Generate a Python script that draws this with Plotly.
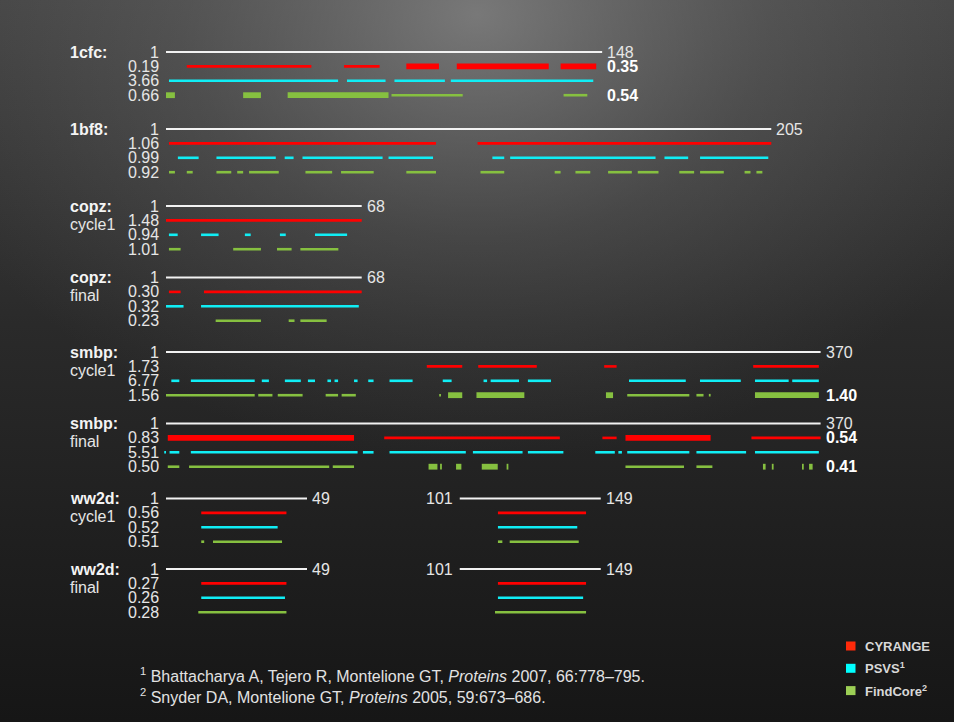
import base64
import plotly.graph_objects as go

# ---------------------------------------------------------------- data
BLOCK_NAMES = ["1cfc:", "1bf8:", "copz:", "copz:", "smbp:", "smbp:", "ww2d:", "ww2d:"]
BLOCK_STAGES = ["", "", "cycle1", "final", "cycle1", "final", "cycle1", "final"]
CHAIN_SEGMENTS = [[(1, 148)], [(1, 205)], [(1, 68)], [(1, 68)],
                  [(1, 370)], [(1, 370)], [(1, 49), (101, 149)], [(1, 49), (101, 149)]]

CYRANGE_RMSD = ["0.19", "1.06", "1.48", "0.30", "1.73", "0.83", "0.56", "0.27"]
PSVS_RMSD = ["3.66", "0.99", "0.94", "0.32", "6.77", "5.51", "0.52", "0.26"]
FINDCORE_RMSD = ["0.66", "0.92", "1.01", "0.23", "1.56", "0.50", "0.51", "0.28"]
CYRANGE_CORE_RMSD = ["0.35", "", "", "", "", "0.54", "", ""]
FINDCORE_CORE_RMSD = ["0.54", "", "", "", "1.40", "0.41", "", ""]

# residue ranges per block
CYRANGE_RANGES = [
    [(8, 50), (61, 73)],
    [(2, 92), (106, 205)],
    [(1, 68)],
    [(2, 6), (14, 68)],
    [(148, 168), (177, 210), (248, 255), (332, 369)],
    [(124, 223), (247, 255), (331, 370)],
    [(13, 42), (114, 144)],
    [(13, 42), (114, 144)],
]
CYRANGE_CORE = [
    [(82, 93), (99, 130), (134, 146)],
    [], [], [], [],
    [(2, 107), (260, 308)],
    [], [],
]
PSVS_RANGES = [
    [(2, 59), (62, 75), (78, 95), (97, 145)],
    [(5, 12), (18, 38), (41, 44), (47, 74), (76, 91), (111, 115), (117, 166),
     (169, 177), (181, 204)],
    [(2, 5), (13, 19), (28, 30), (40, 42), (52, 63)],
    [(1, 7), (13, 67)],
    [(4, 8.5), (15, 51), (55, 59), (68, 77), (81, 85), (92, 94), (96, 98), (107, 109),
     (115, 118), (127, 140), (157, 162), (180, 182), (184, 200), (205, 218),
     (262, 294), (302, 325), (333, 352), (354, 369)],
    [(0, 1), (3, 8.5), (15, 109), (112, 118), (127, 170), (174, 202), (205, 225),
     (243, 254), (256, 258), (261, 296), (300, 328), (333, 369)],
    [(13, 39), (114, 141)],
    [(13, 41.5), (114, 143)],
]
FINDCORE_RANGES = [
    [(77, 101), (135, 143)],
    [(2, 4), (8, 10), (18, 23), (25, 27), (29, 39), (48, 57), (60, 71), (82, 92),
     (107, 115), (132, 134), (139, 144), (150, 158), (160, 167), (174, 179),
     (181, 189), (196, 198), (200, 202)],
    [(2, 6), (24, 33.5), (39, 44), (47, 60)],
    [(18, 33.5), (43, 45), (47, 56)],
    [(1, 51), (53, 61), (64, 78), (91, 98), (100, 108), (155, 156), (261, 296),
     (300, 304), (307, 308)],
    [(2, 8.5), (14, 93), (95, 107), (260, 293), (300, 309)],
    [(13, 14), (17, 40.5), (114, 115.5), (118, 141.5)],
    [(12, 42), (113, 144)],
]
FINDCORE_CORE = [
    [(1, 4), (27, 33), (42, 76)],
    [], [], [],
    [(160, 168), (176, 203), (249, 253), (333, 369)],
    [(149, 154), (155.5, 156.5), (164.5, 167.5), (179, 188), (193, 194),
     (337.5, 339), (342.5, 343.5), (359.5, 360.5), (363.5, 365.5)],
    [], [],
]

LEGEND_NAMES = ["CYRANGE", "PSVS<sup>1</sup>", "FindCore<sup>2</sup>"]
FOOTNOTES = [
    "<sup>1</sup> Bhattacharya A, Tejero R, Montelione GT, <i>Proteins</i> 2007, 66:778–795.",
    "<sup>2</sup> Snyder DA, Montelione GT, <i>Proteins</i> 2005, 59:673–686.",
]

# ---------------------------------------------------------------- layout constants
FIG_W, FIG_H = 954, 722
ORIGIN_PX = 166
PX_PER_RES = [2.967, 2.967, 2.921, 2.921, 1.774, 1.774, 2.9375, 2.9375]
BLOCK_Y = [52, 129, 206, 277.5, 352, 423.5, 498.5, 569]
ROW_STEP = 14.4
FONT = "Liberation Sans, Arial, Helvetica, sans-serif"
FS = 16
C_CHAIN = "#f2f2f2"
C_RED = "#ff0000"
C_CYAN = "#10eef5"
C_GREEN = "#86c040"
LEG_COLORS = ["#ff2a0a", "#00ffff", "#9ccf55"]
THIN, THICK = 2.6, 5.8

fig = go.Figure()


def xa(i):
    return "x" if i == 0 else f"x{i + 1}"


def add_ranges(i, row, ranges, color, width):
    if not ranges:
        return
    xs, ys = [], []
    y = BLOCK_Y[i] + row * ROW_STEP
    for a, b in ranges:
        xs += [a, b, None]
        ys += [y, y, None]
    fig.add_trace(go.Scatter(x=xs, y=ys, mode="lines",
                             line=dict(color=color, width=width),
                             xaxis=xa(i), yaxis="y", showlegend=False,
                             hoverinfo="skip"))


annotations = []


def label(i, x, y, text, anchor, shift, size=FS, color="#e6e6e6", bold=False):
    annotations.append(dict(
        x=x, y=y, xref=xa(i), yref="y", text=f"<b>{text}</b>" if bold else text,
        showarrow=False, xanchor=anchor, yanchor="middle", xshift=shift,
        font=dict(family=FONT, size=size, color=color)))


for i in range(len(BLOCK_NAMES)):
    add_ranges(i, 0, CHAIN_SEGMENTS[i], C_CHAIN, 2)
    add_ranges(i, 1, CYRANGE_RANGES[i], C_RED, THIN)
    add_ranges(i, 1, CYRANGE_CORE[i], C_RED, THICK)
    add_ranges(i, 2, PSVS_RANGES[i], C_CYAN, THIN)
    add_ranges(i, 3, FINDCORE_RANGES[i], C_GREEN, THIN)
    add_ranges(i, 3, FINDCORE_CORE[i], C_GREEN, THICK)

    y0 = BLOCK_Y[i]
    annotations.append(dict(x=68 / FIG_W, y=y0, xref="paper", yref="y",
                            text=f"<b>{BLOCK_NAMES[i]}</b>", showarrow=False,
                            xanchor="left", yanchor="middle",
                            font=dict(family=FONT, size=FS, color="#f4f4f4")))
    if BLOCK_STAGES[i]:
        annotations.append(dict(x=68 / FIG_W, y=y0 + 18, xref="paper", yref="y",
                                text=BLOCK_STAGES[i], showarrow=False,
                                xanchor="left", yanchor="middle",
                                font=dict(family=FONT, size=FS, color="#e6e6e6")))
    for a, b in CHAIN_SEGMENTS[i]:
        label(i, a, y0, str(a), "right", -5)
        label(i, b, y0, str(b), "left", 3)
    start = CHAIN_SEGMENTS[i][0][0]
    end = CHAIN_SEGMENTS[i][-1][1]
    for row, vals in ((1, CYRANGE_RMSD), (2, PSVS_RMSD), (3, FINDCORE_RMSD)):
        label(i, start, y0 + row * ROW_STEP, vals[i], "right", -5)
    for row, vals in ((1, CYRANGE_CORE_RMSD), (3, FINDCORE_CORE_RMSD)):
        if vals[i]:
            label(i, end, y0 + row * ROW_STEP, vals[i], "left", 3,
                  color="#ffffff", bold=True)

# footnotes
for k, t in enumerate(FOOTNOTES):
    annotations.append(dict(x=138 / FIG_W, y=675 + 21 * k, xref="paper", yref="y",
                            text=t, showarrow=False, xanchor="left", yanchor="middle",
                            font=dict(family=FONT, size=16, color="#e2e2e2")))

# legend (manual)
shapes = []
for k, name in enumerate(LEGEND_NAMES):
    yc = 646 + 22.3 * k
    shapes.append(dict(type="rect", xref="paper", yref="y",
                       x0=846 / FIG_W, x1=855.5 / FIG_W, y0=yc - 4.5, y1=yc + 4.5,
                       fillcolor=LEG_COLORS[k], line=dict(width=0), layer="above"))
    annotations.append(dict(x=863 / FIG_W, y=yc, xref="paper", yref="y",
                            text=f"<b>{name}</b>", showarrow=False,
                            xanchor="left", yanchor="middle",
                            font=dict(family=FONT, size=13, color="#d8d8d8")))

# background gradient (svg image)
svg = f"""<svg xmlns='http://www.w3.org/2000/svg' width='{FIG_W}' height='{FIG_H}'>
<defs>
<linearGradient id='g' x1='0' y1='0' x2='0' y2='1'>
<stop offset='0' stop-color='#444444'/><stop offset='0.45' stop-color='#2a2a2a'/>
<stop offset='1' stop-color='#161616'/></linearGradient>
<radialGradient id='r' cx='0.5' cy='0.02' r='0.62'>
<stop offset='0' stop-color='#8a8a8a' stop-opacity='0.75'/>
<stop offset='0.5' stop-color='#777777' stop-opacity='0.3'/>
<stop offset='1' stop-color='#666666' stop-opacity='0'/></radialGradient>
</defs>
<rect width='100%' height='100%' fill='url(#g)'/>
<rect width='100%' height='100%' fill='url(#r)'/>
</svg>"""
bg_src = "data:image/svg+xml;base64," + base64.b64encode(svg.encode()).decode()

layout = dict(
    width=FIG_W, height=FIG_H, margin=dict(l=0, r=0, t=0, b=0, pad=0),
    paper_bgcolor="#262626", plot_bgcolor="rgba(0,0,0,0)",
    showlegend=False, annotations=annotations, shapes=shapes,
    images=[dict(source=bg_src, xref="paper", yref="paper", x=0, y=1,
                 sizex=1, sizey=1, sizing="stretch", layer="below",
                 xanchor="left", yanchor="top")],
    yaxis=dict(range=[FIG_H, 0], visible=False, domain=[0, 1], fixedrange=True),
    hovermode=False,
)
for i, s in enumerate(PX_PER_RES):
    x0 = 1 - ORIGIN_PX / s
    ax = dict(range=[x0, x0 + FIG_W / s], visible=False, domain=[0, 1],
              anchor="y", fixedrange=True)
    if i > 0:
        ax["overlaying"] = "x"
    layout["xaxis" if i == 0 else f"xaxis{i + 1}"] = ax
fig.update_layout(**layout)

fig.write_html("out.html", config={"displayModeBar": False},
               post_script="document.body.style.margin='0';document.body.style.background='#222';")
